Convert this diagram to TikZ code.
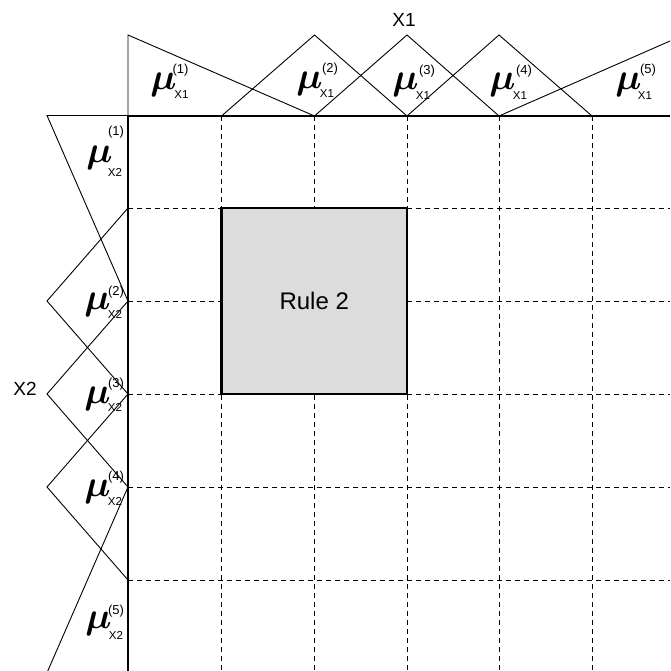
\RequirePackage{fix-cm}
\documentclass[tikz,border=0pt]{standalone}
\usepackage{fontspec}
\setmainfont{Liberation Sans}
\definecolor{rulefill}{HTML}{DCDCDC}
\tikzset{
  mf/.style={line width=0.9pt, line join=miter},
  axisline/.style={line width=2.4pt},
  gridline/.style={dash pattern=on 5pt off 4pt, line width=0.8pt},
  rulebox/.style={draw, fill=rulefill, line width=2.4pt, inner sep=0pt,
    font=\fontsize{24}{24}\selectfont},
  mulab/.style={anchor=base, inner sep=0pt, font=\fontsize{37}{37}\selectfont\mathversion{bold}},
  suplab/.style={inner sep=0pt, font=\fontsize{13}{13}\selectfont},
  sublab/.style={inner sep=0pt, font=\fontsize{11.5}{11.5}\selectfont},
  axlab/.style={inner sep=0pt, font=\fontsize{19}{19}\selectfont}
}
\begin{document}
\begin{tikzpicture}[x=1pt,y=-1pt]
\useasboundingbox (0,0) rectangle (670,671);
\begin{scope}
\clip (0,0) rectangle (670,671);
% grid coordinates
\coordinate (o) at (128,116);
\coordinate (tr) at (670,116);
\coordinate (bl) at (128,671);
% dashed grid
\foreach \gx in {221.5,314.5,407,499,592}
  \draw[gridline] (\gx,116) -- (\gx,671);
\foreach \gy in {208,301,394,487,580}
  \draw[gridline] (128,\gy) -- (670,\gy);
% rule box
\node[rulebox, minimum width=185.5pt, minimum height=186pt] (rule) at (314.25,301) {Rule 2};
% axes
\draw[axisline] (tr) -- (o) -- (bl);
% top membership functions
\draw[mf] (128,116) -- (128,35) -- (314.5,116);
\draw[mf] (221.5,116) -- (314.5,35) -- (407,116);
\draw[mf] (314.5,116) -- (407,35) -- (499,116);
\draw[mf] (407,116) -- (499,35) -- (592,116);
\draw[mf] (499,116) -- (686,34);
% left membership functions
\draw[mf] (128,115.5) -- (47,115.5) -- (128,301);
\draw[mf] (128,208) -- (47,301) -- (128,394);
\draw[mf] (128,301) -- (47,394) -- (128,487);
\draw[mf] (128,394) -- (47,487) -- (128,580);
\draw[mf] (128,487) -- (46,675);
\end{scope}
% axis labels
\node[axlab] (x1) at (404,19.5) {X1};
\node[axlab] (x2) at (25,389) {X2};
% top labels
\node[mulab] (t1) at (163.5,90) {$\mu$};
\node[suplab] (t1s) at (180.5,70.5) {(1)};
\node[sublab] (t1b) at (181.5,94.5) {X1};
\node[mulab] (t2) at (309.5,89) {$\mu$};
\node[suplab] (t2s) at (330,69.5) {(2)};
\node[sublab] (t2b) at (327,94) {X1};
\node[mulab] (t3) at (405.5,90) {$\mu$};
\node[suplab] (t3s) at (427,71) {(3)};
\node[sublab] (t3b) at (423,96) {X1};
\node[mulab] (t4) at (502.5,90) {$\mu$};
\node[suplab] (t4s) at (524,71) {(4)};
\node[sublab] (t4b) at (520,96) {X1};
\node[mulab] (t5) at (628.5,90) {$\mu$};
\node[suplab] (t5s) at (648,70) {(5)};
\node[sublab] (t5b) at (645,96) {X1};
% left labels
\node[mulab] (l1) at (99.5,163) {$\mu$};
\node[suplab] (l1s) at (116,132.5) {(1)};
\node[sublab] (l1b) at (115,172.5) {X2};
\node[mulab] (l2) at (97.5,309) {$\mu$};
\node[suplab] (l2s) at (116,292) {(2)};
\node[sublab] (l2b) at (115,314) {X2};
\node[mulab] (l3) at (97.5,403) {$\mu$};
\node[suplab] (l3s) at (116,384) {(3)};
\node[sublab] (l3b) at (115,407) {X2};
\node[mulab] (l4) at (97.5,496) {$\mu$};
\node[suplab] (l4s) at (116,477) {(4)};
\node[sublab] (l4b) at (115,501) {X2};
\node[mulab] (l5) at (98.5,628) {$\mu$};
\node[suplab] (l5s) at (116,611) {(5)};
\node[sublab] (l5b) at (116,635) {X2};
\end{tikzpicture}
\end{document}
